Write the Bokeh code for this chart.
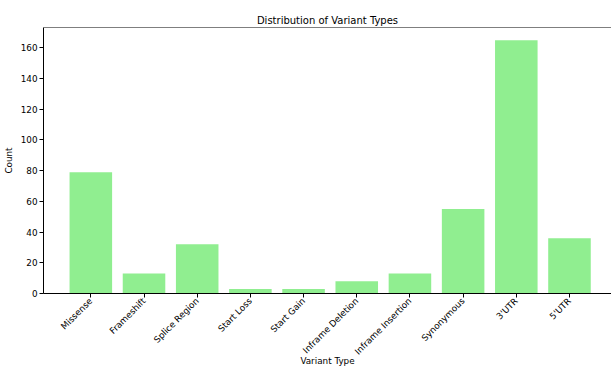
import math
from bokeh.plotting import figure
from bokeh.models import Range1d, FixedTicker, Span, ColumnDataSource
from bokeh.embed import file_html
from bokeh.resources import INLINE

categories = ["Missense", "Frameshift", "Splice Region", "Start Loss", "Start Gain",
              "Inframe Deletion", "Inframe Insertion", "Synonymous", "3'UTR", "5'UTR"]
counts = [79, 13, 32, 3, 3, 8, 13, 55, 165, 36]
y_ticks = [0, 20, 40, 60, 80, 100, 120, 140, 160]

xs = list(range(len(categories)))
src = ColumnDataSource(dict(x=xs, top=counts))

FONT = "DejaVu Sans"
ymax = max(counts) * 1.05

p = figure(width=611, height=369, output_backend="svg", toolbar_location=None,
           title="Distribution of Variant Types",
           x_range=Range1d(-0.89, 9.79), y_range=Range1d(0, ymax),
           min_border_left=42, min_border_right=0, min_border_top=27, min_border_bottom=76)

p.vbar(x="x", top="top", width=0.8, source=src, fill_color="#90EE90", line_color=None)

p.title.text_font = FONT
p.title.text_font_size = "10px"
p.title.text_font_style = "normal"
p.title.align = "center"
p.title.text_color = "black"
p.title.standoff = 4

p.outline_line_color = None
p.grid.visible = False
p.add_layout(Span(location=ymax, dimension="width", line_color="black", line_width=1))

p.xaxis.ticker = FixedTicker(ticks=xs)
p.xaxis.major_label_overrides = {i: c for i, c in zip(xs, categories)}
p.xaxis.major_label_orientation = math.pi / 4
p.yaxis.ticker = FixedTicker(ticks=y_ticks)
p.xaxis.axis_label = "Variant Type"
p.yaxis.axis_label = "Count"

for ax in (p.xaxis, p.yaxis):
    ax.major_label_text_font = FONT
    ax.major_label_text_font_size = "8.8px"
    ax.major_label_text_color = "black"
    ax.axis_label_text_font = FONT
    ax.axis_label_text_font_size = "8.8px"
    ax.axis_label_text_font_style = "normal"
    ax.axis_label_text_color = "black"
    ax.axis_line_color = "black"
    ax.major_tick_line_color = "black"
    ax.minor_tick_line_color = None
    ax.major_tick_out = 4
    ax.major_tick_in = 0
    ax.major_label_standoff = 2
    ax.axis_label_standoff = 4
p.xaxis.axis_label_standoff = -7

open("out.html", "w").write(file_html(p, INLINE))
